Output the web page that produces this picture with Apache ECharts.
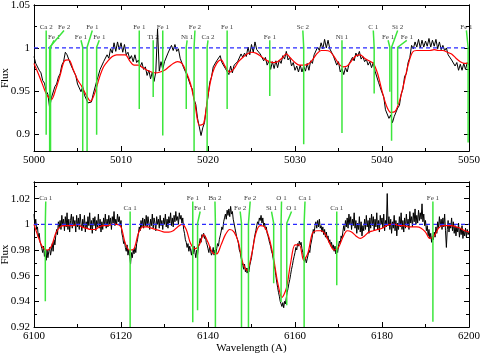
<!DOCTYPE html>
<html>
<head>
<meta charset="utf-8">
<script src="https://cdn.jsdelivr.net/npm/echarts@6/dist/echarts.min.js"></script>
<style>
  html, body { margin: 0; padding: 0; background: #fff; }
  #chart { width: 480px; height: 353px; }
</style>
</head>
<body>
<div id="chart"></div>
<script>
// ---- data: 5000-5050 A window ----
const topStart = 5000, topStep = 0.2;
const topObserved = [
  0.990, 0.982, 0.980, 0.974, 0.971, 0.962, 0.959, 0.950, 0.946, 0.930,
  0.942, 0.944, 0.955, 0.958, 0.966, 0.970, 0.980, 0.984, 0.995, 0.992,
  0.990, 0.981, 0.980, 0.972, 0.968, 0.958, 0.959, 0.949, 0.955, 0.945,
  0.946, 0.936, 0.938, 0.937, 0.946, 0.948, 0.961, 0.963, 0.975, 0.975,
  0.984, 0.982, 0.992, 0.988, 0.999, 0.994, 1.006, 0.996, 1.007, 0.998,
  1.006, 0.995, 1.004, 0.992, 0.995, 0.987, 0.991, 0.984, 0.992, 0.983,
  0.986, 0.978, 0.983, 0.975, 0.978, 0.968, 0.974, 0.964, 0.972, 0.961,
  0.972, 1.022, 0.973, 0.984, 0.975, 0.984, 0.983, 0.994, 0.993, 1.003,
  0.997, 1.004, 0.996, 0.999, 0.988, 0.988, 0.977, 0.976, 0.968, 0.966,
  0.956, 0.952, 0.940, 0.934, 0.918, 0.908, 0.898, 0.907, 0.913, 0.930,
  0.943, 0.960, 0.966, 0.978, 0.976, 0.985, 0.983, 0.991, 0.983, 0.985,
  0.976, 0.978, 0.969, 0.979, 0.971, 0.980, 0.979, 0.984, 0.983, 0.993,
  0.989, 0.994, 0.990, 1.001, 0.992, 1.004, 0.995, 1.007, 0.998, 1.000,
  0.993, 0.995, 0.985, 0.989, 0.980, 0.985, 0.975, 0.984, 0.976, 0.985,
  0.977, 0.986, 0.982, 0.991, 0.987, 0.996, 0.986, 0.989, 0.979, 0.983,
  0.974, 0.979, 0.972, 0.980, 0.972, 0.979, 0.973, 0.982, 0.974, 0.985,
  0.982, 0.992, 0.991, 1.001, 0.997, 1.006, 0.999, 1.010, 1.000, 1.009,
  0.999, 1.001, 0.991, 0.991, 0.980, 0.984, 0.972, 0.976, 0.969, 0.977,
  0.972, 0.981, 0.979, 0.989, 0.985, 0.994, 0.990, 0.996, 0.987, 0.990,
  0.984, 0.987, 0.980, 0.984, 0.977, 0.983, 0.973, 0.972, 0.960, 0.958,
  0.948, 0.943, 0.928, 0.928, 0.918, 0.922, 0.913, 0.920, 0.919, 0.930,
  0.933, 0.946, 0.952, 0.967, 0.970, 0.983, 0.989, 1.003, 0.999, 1.007,
  1.001, 1.010, 1.000, 1.009, 1.001, 1.008, 1.002, 1.011, 1.001, 1.009,
  1.002, 1.010, 0.999, 1.007, 0.998, 1.003, 0.997, 1.000, 0.992, 0.994,
  0.986, 0.988, 0.979, 0.983, 0.974, 0.981, 0.974, 0.982, 0.975, 0.983,
  0.980
];
const topModelStep = 0.5;
const topModel = [
  0.982, 0.970, 0.957, 0.945, 0.940, 0.952, 0.968, 0.985, 0.986, 0.975,
  0.963, 0.955, 0.945, 0.938, 0.948, 0.965, 0.978, 0.985, 0.990, 0.992,
  0.992, 0.992, 0.985, 0.980, 0.980, 0.977, 0.974, 0.972, 0.971, 0.972,
  0.974, 0.978, 0.982, 0.984, 0.982, 0.972, 0.958, 0.935, 0.910, 0.912,
  0.945, 0.970, 0.982, 0.986, 0.978, 0.972, 0.976, 0.984, 0.989, 0.993,
  0.995, 0.994, 0.991, 0.987, 0.984, 0.983, 0.984, 0.988, 0.993, 0.988,
  0.983, 0.980, 0.980, 0.981, 0.986, 0.993, 0.997, 0.997, 0.996, 0.990,
  0.982, 0.978, 0.979, 0.985, 0.991, 0.992, 0.988, 0.985, 0.982, 0.970,
  0.950, 0.933, 0.925, 0.926, 0.938, 0.958, 0.980, 0.995, 0.997, 0.997,
  0.997, 0.997, 0.998, 0.997, 0.997, 0.995, 0.993, 0.988, 0.984, 0.982,
  0.982
];
const topLineWave  = [5001.4, 5001.8, 5001.9, 5005.6, 5006.1, 5007.2, 5012.1, 5013.7, 5014.8, 5017.5, 5018.4,
                      5019.9, 5022.2, 5027.1, 5031.0, 5035.4, 5039.1, 5040.9, 5041.1, 5041.8, 5049.9];
const topLineName  = ['Ca 2', 'Fe 2', 'Fe 1', 'Fe 1', 'Fe 1', 'Fe 1', 'Fe 1', 'Ti 2', 'Fe 1', 'Ni 1', 'Fe 2',
                      'Ca 2', 'Fe 1', 'Fe 1', 'Sc 2', 'Ni 1', 'C 1', 'Fe 1', 'Si 2', 'Fe 1', 'Fe 1'];
const topLineDepth = [0.899, 0.88, 0.88, 0.88, 0.88, 0.899, 0.929, 0.943, 0.898, 0.929, 0.88,
                      0.88, 0.929, 0.944, 0.888, 0.901, 0.947, 0.949, 0.892, 0.934, 0.89];

// ---- data: 6100-6200 A window ----
const botStart = 6100, botStep = 0.2;
const botObserved = [
  1.008, 0.999, 1.004, 0.996, 0.998, 0.990, 0.993, 0.986, 0.984, 0.981,
  0.978, 0.983, 0.975, 0.979, 0.972, 0.980, 0.974, 0.979, 0.982, 0.976,
  0.980, 0.985, 0.979, 0.988, 0.984, 0.991, 0.996, 0.992, 1.002, 0.997,
  1.003, 0.996, 1.007, 0.999, 1.004, 0.995, 1.006, 0.998, 1.009, 0.996,
  1.004, 0.994, 1.003, 1.008, 0.997, 1.006, 0.999, 1.003, 0.994, 1.007,
  0.998, 1.005, 0.996, 1.008, 1.001, 0.995, 1.004, 0.998, 1.007, 0.994,
  1.002, 0.997, 1.006, 0.999, 1.009, 0.996, 1.003, 0.993, 1.005, 0.999,
  1.006, 0.995, 1.003, 0.998, 1.008, 0.997, 1.004, 0.994, 1.002, 0.996,
  1.005, 0.999, 1.008, 0.997, 1.004, 0.998, 1.007, 1.000, 1.005, 0.996,
  1.006, 1.001, 1.010, 0.999, 1.004, 1.000, 1.008, 1.002, 1.006, 0.999,
  1.003, 0.993, 0.990, 0.985, 0.987, 0.982, 0.979, 0.984, 0.976, 0.980,
  0.975, 0.969, 0.978, 0.974, 0.980, 0.977, 0.982, 0.978, 0.985, 0.988,
  0.993, 0.998, 0.995, 1.003, 0.998, 1.005, 0.997, 1.004, 0.999, 1.007,
  0.998, 1.006, 1.001, 0.996, 1.004, 0.999, 1.008, 0.997, 1.005, 1.001,
  0.995, 1.006, 1.000, 1.004, 0.997, 1.007, 0.999, 1.003, 0.996, 1.005,
  1.000, 1.008, 0.998, 1.004, 0.997, 1.006, 1.001, 1.009, 0.999, 1.005,
  0.998, 1.007, 1.002, 1.010, 1.003, 1.006, 1.000, 1.009, 1.004, 1.007,
  1.001, 1.005, 0.996, 0.993, 0.988, 0.986, 0.982, 0.985, 0.979, 0.983,
  0.980, 0.976, 0.981, 0.977, 0.983, 0.978, 0.974, 0.980, 0.976, 0.983,
  0.985, 0.989, 0.986, 0.992, 0.990, 0.993, 0.989, 0.991, 0.986, 0.984,
  0.981, 0.978, 0.983, 0.979, 0.976, 0.978, 0.982, 0.976, 0.980, 0.977,
  0.981, 0.985, 0.983, 0.988, 0.991, 0.994, 0.998, 0.996, 1.002, 1.005,
  1.008, 1.004, 1.011, 1.007, 1.012, 1.006, 1.014, 1.008, 1.010, 1.004,
  1.003, 0.997, 0.996, 0.990, 0.988, 0.985, 0.980, 0.978, 0.974, 0.971,
  0.968, 0.965, 0.969, 0.963, 0.966, 0.962, 0.966, 0.963, 0.968, 0.971,
  0.974, 0.979, 0.983, 0.988, 0.992, 0.995, 0.999, 1.002, 1.000, 1.005,
  1.003, 1.007, 1.001, 1.005, 0.999, 1.001, 0.996, 0.998, 0.993, 0.991,
  0.988, 0.985, 0.983, 0.979, 0.977, 0.973, 0.968, 0.965, 0.960, 0.955,
  0.951, 0.947, 0.944, 0.940, 0.938, 0.936, 0.939, 0.935, 0.940, 0.938,
  0.943, 0.947, 0.950, 0.954, 0.957, 0.961, 0.965, 0.968, 0.972, 0.975,
  0.978, 0.982, 0.980, 0.985, 0.983, 0.987, 0.984, 0.986, 0.981, 0.978,
  0.974, 0.971, 0.974, 0.970, 0.973, 0.976, 0.980, 0.978, 0.984, 0.987,
  0.991, 0.996, 0.993, 0.999, 1.002, 0.997, 1.003, 0.998, 1.004, 0.997,
  0.999, 0.994, 0.998, 0.992, 0.996, 0.990, 0.994, 0.989, 0.991, 0.986,
  0.988, 0.983, 0.986, 0.981, 0.984, 0.979, 0.983, 0.977, 0.981, 0.978,
  0.983, 0.987, 0.985, 0.991, 0.989, 0.994, 0.999, 0.995, 1.003, 0.998,
  1.005, 0.997, 1.008, 1.000, 1.006, 0.996, 1.004, 0.999, 1.009, 0.997,
  1.003, 0.993, 1.001, 0.996, 1.006, 0.994, 1.002, 0.991, 0.999, 0.995,
  1.004, 0.996, 1.007, 0.998, 1.003, 0.993, 1.005, 0.997, 1.008, 0.999,
  1.006, 0.995, 1.004, 0.998, 1.009, 0.996, 1.003, 0.994, 1.007, 1.000,
  1.005, 0.997, 1.008, 0.995, 1.003, 0.998, 1.024, 0.999, 1.006, 0.996,
  1.004, 0.993, 1.002, 0.997, 1.007, 0.995, 1.003, 0.991, 1.001, 0.996,
  1.006, 0.998, 1.009, 0.996, 1.003, 0.994, 1.005, 0.997, 1.008, 0.999,
  1.004, 0.996, 1.010, 1.001, 1.006, 0.998, 1.009, 1.002, 1.012, 1.000,
  1.007, 1.001, 1.011, 1.003, 1.009, 1.004, 1.016, 1.002, 1.008, 0.999,
  1.003, 0.995, 0.999, 0.991, 0.996, 0.989, 0.993, 0.986, 0.991, 0.988,
  0.994, 0.990, 0.998, 0.993, 1.002, 0.997, 1.006, 0.999, 1.004, 0.996,
  1.005, 0.998, 1.008, 0.995, 0.982, 0.996, 1.003, 0.994, 1.001, 0.997,
  1.005, 0.995, 1.002, 0.993, 0.999, 0.991, 0.998, 0.994, 1.001, 0.990,
  0.997, 0.992, 0.999, 0.989, 0.995, 0.991, 0.997, 0.990, 0.996, 0.992,
  0.994
];
const botModelStep = 1;
const botModel = [
  1.000, 0.990, 0.982, 0.980, 0.983, 0.993, 0.998, 0.999, 0.999, 0.999,
  1.000, 0.998, 0.997, 0.996, 0.996, 0.998, 0.999, 0.999, 1.000, 1.000,
  0.998, 0.985, 0.980, 0.981, 0.993, 0.998, 0.998, 0.997, 0.996, 0.995,
  0.994, 0.994, 0.995, 0.998, 1.000, 0.996, 0.985, 0.981, 0.984, 0.992,
  0.986, 0.978, 0.977, 0.984, 0.992, 0.996, 0.994, 0.986, 0.970, 0.964,
  0.976, 0.993, 0.999, 0.998, 0.990, 0.975, 0.955, 0.943, 0.950, 0.970,
  0.984, 0.984, 0.972, 0.978, 0.993, 0.995, 0.995, 0.992, 0.985, 0.980,
  0.982, 0.990, 0.995, 0.994, 0.991, 0.989, 0.991, 0.994, 0.995, 0.996,
  0.997, 0.999, 1.000, 1.000, 0.999, 0.999, 0.998, 0.998, 0.998, 0.997,
  0.994, 0.989, 0.991, 0.997, 0.999, 0.999, 0.999, 0.998, 0.997, 0.995,
  0.994
];
const botLineWave  = [6102.6, 6122.1, 6136.5, 6137.6, 6141.7, 6147.7, 6149.3, 6155.1, 6156.8, 6158.1, 6162.1, 6169.6, 6191.7];
const botLineName  = ['Ca 1', 'Ca 1', 'Fe 1', 'Fe 1', 'Ba 2', 'Fe 2', 'Fe 2', 'Si 1', 'O 1', 'O 1', 'Ca 1', 'Ca 1', 'Fe 1'];
const botLineDepth = [0.940, 0.92, 0.9237, 0.933, 0.92, 0.92, 0.92, 0.954, 0.9395, 0.937, 0.92, 0.9525, 0.924];

// label placement (layout only): where each tag sits, and on which of the two rows
const topLabelAt  = [5001.4, 5003.45, 5002.3, 5005.4, 5006.7, 5007.5, 5012.1, 5013.7, 5014.8, 5017.6, 5018.5,
                     5020.0, 5022.2, 5027.1, 5030.9, 5035.4, 5039.0, 5040.7, 5041.8, 5042.85, 5049.7];
const topLabelRow = [0, 0, 1, 1, 0, 1, 0, 1, 0, 1, 0, 1, 0, 1, 0, 1, 0, 1, 0, 1, 0];
const botLabelAt  = [6102.7, 6122.1, 6136.5, 6138.2, 6141.6, 6147.4, 6149.7, 6154.6, 6156.9, 6159.2, 6162.3, 6169.6, 6191.7];
const botLabelRow = [0, 1, 0, 1, 0, 1, 0, 1, 0, 1, 0, 1, 0];

const FONT = 'Liberation Serif';
const black = { color: '#000', width: 1 };

const chart = echarts.init(document.getElementById('chart'), null, { renderer: 'canvas' });

function xAxis(grid, min, max, interval, pos, withLabels, name) {
  return {
    type: 'value', gridIndex: grid, position: pos, min, max, interval,
    axisLine: { show: true, onZero: false, lineStyle: black },
    axisTick: { show: true, inside: true, length: 5, lineStyle: black },
    minorTick: { show: true, splitNumber: 2, length: 3, lineStyle: black },
    splitLine: { show: false },
    axisLabel: { show: withLabels, margin: 4, color: '#000', fontFamily: FONT, fontSize: 11,
                 formatter: v => String(v) },
    name: name || '', nameLocation: 'middle', nameGap: 13,
    nameTextStyle: { color: '#000', fontFamily: FONT, fontSize: 11 }
  };
}
function yAxis(grid, min, max, pos, ticks, len, withLabels, name) {
  return {
    type: 'value', gridIndex: grid, position: pos, min, max,
    axisLine: { show: true, onZero: false, lineStyle: black },
    axisTick: { show: true, inside: true, length: len, customValues: ticks, lineStyle: black },
    axisLabel: { show: withLabels, customValues: ticks, margin: 4, color: '#000', fontFamily: FONT, fontSize: 11 },
    splitLine: { show: false },
    name: name || '', nameLocation: 'middle', nameGap: 23, nameMoveOverlap: false,
    nameTextStyle: { color: '#000', fontFamily: FONT, fontSize: 11 }
  };
}

const topMajor = [0.9, 0.95, 1, 1.05], topMinor = [0.925, 0.975, 1.025];
const botMajor = [0.92, 0.94, 0.96, 0.98, 1, 1.02], botMinor = [0.93, 0.95, 0.97, 0.99, 1.01, 1.03];

const xAxes = [
  xAxis(0, 5000, 5050, 10, 'bottom', true),
  xAxis(0, 5000, 5050, 10, 'top', false),
  xAxis(1, 6100, 6200, 20, 'bottom', true, 'Wavelength (A)'),
  xAxis(1, 6100, 6200, 20, 'top', false)
];
const yAxes = [
  yAxis(0, 0.88, 1.05, 'left', topMajor, 5, true, 'Flux'),
  yAxis(0, 0.88, 1.05, 'left', topMinor, 3, false),
  yAxis(0, 0.88, 1.05, 'right', topMajor, 5, false),
  yAxis(0, 0.88, 1.05, 'right', topMinor, 3, false),
  yAxis(1, 0.92, 1.033, 'left', botMajor, 5, true, 'Flux'),
  yAxis(1, 0.92, 1.033, 'left', botMinor, 3, false),
  yAxis(1, 0.92, 1.033, 'right', botMajor, 5, false),
  yAxis(1, 0.92, 1.033, 'right', botMinor, 3, false)
];

function spectrum(xi, yi, start, step, vals, color, width, smooth) {
  return {
    type: 'line', xAxisIndex: xi, yAxisIndex: yi, symbol: 'none', smooth: smooth,
    lineStyle: { color, width }, silent: true,
    data: vals.map((v, i) => [start + i * step, v])
  };
}

// rows: [text level, top of tick line]; tick lines bend to the continuum
const topRows = [[1.0239, 1.0204], [1.0124, 1.0089]];
const botRows = [[1.0202, 1.0178], [1.0126, 1.0100]];

function idLines(xi, yi, waves, names, depths, labelAt, labelRow, rows) {
  const out = [];
  waves.forEach((w, i) => {
    const r = rows[labelRow[i]];
    out.push({
      type: 'line', xAxisIndex: xi, yAxisIndex: yi, symbol: 'none', silent: true,
      lineStyle: { color: '#3ce63c', width: 1.5 },
      data: [[labelAt[i], r[1]], [w, 1.0008], [w, depths[i]]]
    });
  });
  out.push({
    type: 'scatter', xAxisIndex: xi, yAxisIndex: yi, symbolSize: 0, silent: true,
    label: { show: true, position: 'inside', formatter: '{b}', color: '#000', fontFamily: FONT, fontSize: 7 },
    data: names.map((n, i) => ({ name: n, value: [labelAt[i], rows[labelRow[i]][0]] }))
  });
  return out;
}

function continuum(xi, yi, a, b) {
  return {
    type: 'line', xAxisIndex: xi, yAxisIndex: yi, symbol: 'none', silent: true,
    lineStyle: { color: '#2a2aff', width: 1.2, type: [4, 3] },
    data: [[a, 1], [b, 1]]
  };
}

const series = [
  spectrum(0, 0, topStart, topStep, topObserved, '#000', 1, false),
  spectrum(0, 0, topStart, topModelStep, topModel, '#ff0000', 1.2, 0.3),
  continuum(0, 0, 5000, 5050),
  ...idLines(0, 0, topLineWave, topLineName, topLineDepth, topLabelAt, topLabelRow, topRows),
  spectrum(2, 4, botStart, botStep, botObserved, '#000', 1, false),
  spectrum(2, 4, botStart, botModelStep, botModel, '#ff0000', 1.2, 0.3),
  continuum(2, 4, 6100, 6200),
  ...idLines(2, 4, botLineWave, botLineName, botLineDepth, botLabelAt, botLabelRow, botRows)
];

chart.setOption({
  animation: false,
  backgroundColor: '#fff',
  grid: [
    { left: 34, top: 5, width: 435, height: 146, outerBoundsMode: 'none' },
    { left: 34, top: 182, width: 435, height: 145, outerBoundsMode: 'none' }
  ],
  xAxis: xAxes,
  yAxis: yAxes,
  series
});
</script>
</body>
</html>
